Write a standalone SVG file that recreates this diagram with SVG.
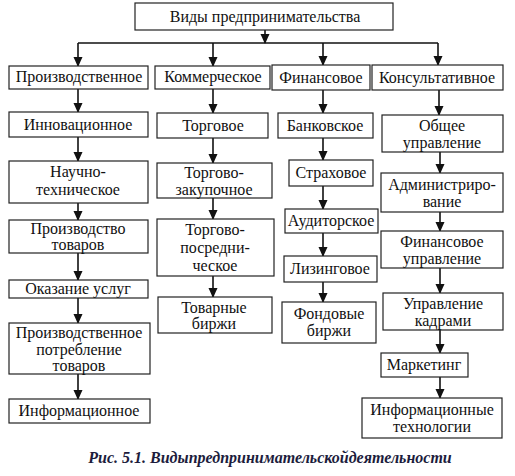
<svg xmlns="http://www.w3.org/2000/svg" width="515" height="476" viewBox="0 0 515 476">
<defs>
<marker id="ah" markerWidth="10" markerHeight="10" refX="9" refY="5" orient="auto" markerUnits="userSpaceOnUse">
<path d="M0,0.5 L10,5 L0,9.5 Z" fill="#111"/>
</marker>
</defs>
<style>
rect{fill:#fff;stroke:#222;stroke-width:1.2}
text{fill:#111;text-anchor:middle;font-size:16px;font-family:'Liberation Serif',serif !important}
.c line{stroke:#111;stroke-width:1.6;fill:none}
.a{marker-end:url(#ah)}
.cap{font-weight:bold;font-style:italic;fill:#1c1c3c}
</style>
<rect x="0" y="0" width="515" height="476" style="fill:#fff;stroke:none"/>
<g class="c" id="connectors">
<line class="a" x1="265" y1="30" x2="265" y2="43"/>
<line x1="78" y1="43" x2="438" y2="43"/>
<line class="a" x1="78" y1="43" x2="78" y2="66"/>
<line class="a" x1="213" y1="43" x2="213" y2="66"/>
<line class="a" x1="323" y1="43" x2="323" y2="65"/>
<line class="a" x1="438" y1="43" x2="438" y2="65"/>
<line class="a" x1="78" y1="89" x2="78" y2="112"/>
<line class="a" x1="78" y1="137" x2="78" y2="161"/>
<line class="a" x1="78" y1="203" x2="78" y2="220"/>
<line class="a" x1="78" y1="253" x2="78" y2="280"/>
<line class="a" x1="78" y1="298" x2="78" y2="323"/>
<line class="a" x1="78" y1="374" x2="78" y2="399"/>
<line class="a" x1="213" y1="89" x2="213" y2="113"/>
<line class="a" x1="213" y1="138" x2="213" y2="163"/>
<line class="a" x1="213" y1="198" x2="213" y2="219"/>
<line class="a" x1="213" y1="276" x2="213" y2="297"/>
<line class="a" x1="323" y1="90" x2="323" y2="113"/>
<line class="a" x1="323" y1="138" x2="323" y2="160"/>
<line class="a" x1="323" y1="186" x2="323" y2="209"/>
<line class="a" x1="323" y1="233" x2="323" y2="256"/>
<line class="a" x1="323" y1="282" x2="323" y2="302"/>
<line class="a" x1="439" y1="90" x2="439" y2="115"/>
<line class="a" x1="440" y1="152" x2="440" y2="173"/>
<line class="a" x1="440" y1="212" x2="440" y2="231"/>
<line class="a" x1="440" y1="268" x2="440" y2="293"/>
<line class="a" x1="440" y1="330" x2="440" y2="353"/>
<line class="a" x1="440" y1="377" x2="440" y2="398"/>
</g>
<g id="root"><rect x="135" y="3" width="258" height="27"/><text style="font-family:'Liberation Serif',serif" x="265" y="22">Виды предпринимательства</text></g>
<g id="n1"><rect x="9" y="66" width="139" height="23"/><text style="font-family:'Liberation Serif',serif" x="79" y="82">Производственное</text></g>
<g id="n2"><rect x="155" y="66" width="115" height="23"/><text style="font-family:'Liberation Serif',serif" x="213" y="82">Коммерческое</text></g>
<g id="n3"><rect x="272" y="65" width="98" height="25"/><text style="font-family:'Liberation Serif',serif" x="321" y="83">Финансовое</text></g>
<g id="n4"><rect x="372" y="65" width="131" height="25"/><text style="font-family:'Liberation Serif',serif" x="437" y="83">Консультативное</text></g>
<g id="p1"><rect x="9" y="112" width="139" height="25"/><text style="font-family:'Liberation Serif',serif" x="78" y="130">Инновационное</text></g>
<g id="p2"><rect x="9" y="161" width="139" height="42"/><text style="font-family:'Liberation Serif',serif" x="78" y="177">Научно-</text><text style="font-family:'Liberation Serif',serif" x="78" y="195">техническое</text></g>
<g id="p3"><rect x="9" y="220" width="139" height="33"/><text style="font-family:'Liberation Serif',serif" x="78" y="234">Производство</text><text style="font-family:'Liberation Serif',serif" x="78" y="250">товаров</text></g>
<g id="p4"><rect x="9" y="280" width="139" height="18"/><text style="font-family:'Liberation Serif',serif" x="78" y="294">Оказание услуг</text></g>
<g id="p5"><rect x="9" y="323" width="141" height="51"/><text style="font-family:'Liberation Serif',serif" x="79" y="338">Производственное</text><text style="font-family:'Liberation Serif',serif" x="79" y="355">потребление</text><text style="font-family:'Liberation Serif',serif" x="79" y="371">товаров</text></g>
<g id="p6"><rect x="9" y="399" width="141" height="24"/><text style="font-family:'Liberation Serif',serif" x="79" y="416">Информационное</text></g>
<g id="k1"><rect x="157" y="113" width="111" height="25"/><text style="font-family:'Liberation Serif',serif" x="213" y="131">Торговое</text></g>
<g id="k2"><rect x="157" y="163" width="115" height="35"/><text style="font-family:'Liberation Serif',serif" x="214" y="178">Торгово-</text><text style="font-family:'Liberation Serif',serif" x="214" y="195">закупочное</text></g>
<g id="k3"><rect x="157" y="219" width="117" height="57"/><text style="font-family:'Liberation Serif',serif" x="215" y="235">Торгово-</text><text style="font-family:'Liberation Serif',serif" x="215" y="253">посредни-</text><text style="font-family:'Liberation Serif',serif" x="215" y="271">ческое</text></g>
<g id="k4"><rect x="158" y="297" width="114" height="36"/><text style="font-family:'Liberation Serif',serif" x="214" y="313">Товарные</text><text style="font-family:'Liberation Serif',serif" x="214" y="329">биржи</text></g>
<g id="f1"><rect x="278" y="113" width="95" height="25"/><text style="font-family:'Liberation Serif',serif" x="325" y="131">Банковское</text></g>
<g id="f2"><rect x="289" y="160" width="84" height="26"/><text style="font-family:'Liberation Serif',serif" x="331" y="178">Страховое</text></g>
<g id="f3"><rect x="285" y="209" width="93" height="24"/><text style="font-family:'Liberation Serif',serif" x="331" y="226">Аудиторское</text></g>
<g id="f4"><rect x="284" y="256" width="93" height="26"/><text style="font-family:'Liberation Serif',serif" x="330" y="274">Лизинговое</text></g>
<g id="f5"><rect x="282" y="302" width="94" height="41"/><text style="font-family:'Liberation Serif',serif" x="329" y="319">Фондовые</text><text style="font-family:'Liberation Serif',serif" x="329" y="336">биржи</text></g>
<g id="u1"><rect x="382" y="115" width="121" height="37"/><text style="font-family:'Liberation Serif',serif" x="442" y="131">Общее</text><text style="font-family:'Liberation Serif',serif" x="442" y="148">управление</text></g>
<g id="u2"><rect x="381" y="173" width="122" height="39"/><text style="font-family:'Liberation Serif',serif" x="442" y="190">Администриро-</text><text style="font-family:'Liberation Serif',serif" x="442" y="207">вание</text></g>
<g id="u3"><rect x="381" y="231" width="122" height="37"/><text style="font-family:'Liberation Serif',serif" x="442" y="247">Финансовое</text><text style="font-family:'Liberation Serif',serif" x="442" y="264">управление</text></g>
<g id="u4"><rect x="383" y="293" width="120" height="37"/><text style="font-family:'Liberation Serif',serif" x="443" y="309">Управление</text><text style="font-family:'Liberation Serif',serif" x="443" y="326">кадрами</text></g>
<g id="u5"><rect x="381" y="353" width="87" height="24"/><text style="font-family:'Liberation Serif',serif" x="424" y="370">Маркетинг</text></g>
<g id="u6"><rect x="362" y="398" width="140" height="40"/><text style="font-family:'Liberation Serif',serif" x="432" y="415">Информационные</text><text style="font-family:'Liberation Serif',serif" x="432" y="432">технологии</text></g>
<text class="cap" style="font-family:'Liberation Serif',serif" x="270" y="463">Рис. 5.1. Видыпредпринимательскойдеятельности</text>
</svg>
